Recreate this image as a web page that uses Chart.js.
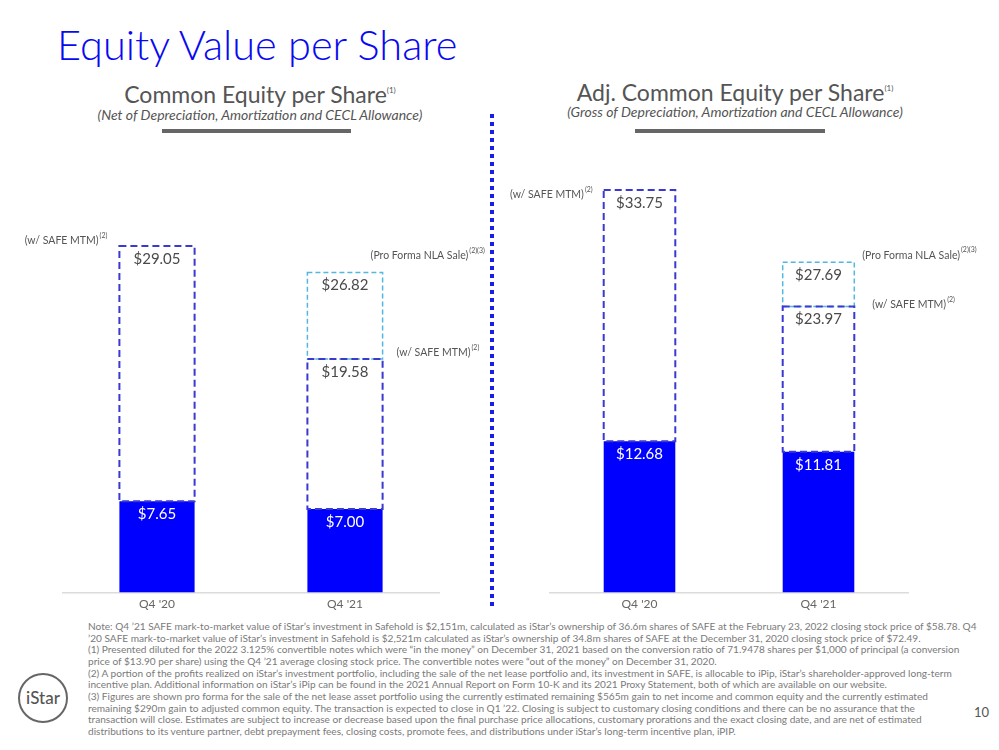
<!DOCTYPE html>
<html>
<head>
<meta charset="utf-8">
<title>Equity Value per Share</title>
<script src="https://cdn.jsdelivr.net/npm/chart.js@4.4.1/dist/chart.umd.min.js"></script>
<style>
    body {
        margin: 0;
        background: #ffffff;
        font-family: Lato, 'Noto Sans', sans-serif;
    }

    .page {
        position: relative;
        width: 999px;
        height: 750px;
        overflow: hidden;
    }

    .title {
        position: absolute;
        left: 57px;
        top: 24px;
        margin: 0;
        font-size: 41.5px;
        line-height: 41px;
        font-weight: 300;
        color: #0808f2;
        white-space: nowrap;
    }

    .panel-head {
        position: absolute;
        width: 420px;
        text-align: center;
        color: #555555;
        white-space: nowrap;
    }

    .panel-head .sub {
        position: absolute;
        left: 0;
        right: 0;
        font-size: 23px;
        line-height: 23px;
        font-weight: 400;
    }

    .panel-head .sub sup {
        font-size: 8px;
        vertical-align: 10px;
        line-height: 0;
    }

    .panel-head .note {
        position: absolute;
        left: 0;
        right: 0;
        font-size: 14px;
        line-height: 14px;
        font-style: italic;
    }

    .rule {
        position: absolute;
        height: 4px;
        background: #666666;
    }

    .divider {
        position: absolute;
        left: 490px;
        top: 114px;
        width: 4px;
        height: 496px;
        background: repeating-linear-gradient(to bottom, #1c1ce8 0 4px, transparent 4px 8px);
    }

    .chart-box {
        position: absolute;
        top: 160px;
    }

    .footnotes {
        position: absolute;
        left: 88px;
        top: 621px;
        font-size: 10.1px;
        line-height: 11.67px;
        color: #7a7a7a;
        white-space: nowrap;
    }

    .logo {
        position: absolute;
        left: 18px;
        top: 673px;
        width: 46px;
        height: 46px;
        border: 2px solid #666666;
        border-radius: 50%;
        text-align: center;
        line-height: 46px;
        font-size: 17px;
        font-weight: 500;
        color: #555555;
    }

    .page-num {
        position: absolute;
        left: 974px;
        top: 704px;
        font-size: 13px;
        color: #555555;
    }
</style>
</head>
<body>
<div class="page">
    <h1 class="title">Equity Value per Share</h1>

    <div class="panel-head" style="left: 50px; top: 0;">
        <div class="sub" style="top: 83px;">Common Equity per Share<sup>(1)</sup></div>
        <div class="note" style="top: 108px;">(Net of Depreciation, Amortization and CECL Allowance)</div>
    </div>
    <div class="rule" style="left: 162px; top: 129px; width: 189px;"></div>

    <div class="panel-head" style="left: 525px; top: 0;">
        <div class="sub" style="top: 81px;">Adj. Common Equity per Share<sup>(1)</sup></div>
        <div class="note" style="top: 105px;">(Gross of Depreciation, Amortization and CECL Allowance)</div>
    </div>
    <div class="rule" style="left: 635px; top: 129px; width: 190px;"></div>

    <div class="divider"></div>

    <div class="chart-box" style="left: 0;">
        <canvas id="commonChart" width="490" height="455"></canvas>
    </div>
    <div class="chart-box" style="left: 500px;">
        <canvas id="adjChart" width="499" height="455"></canvas>
    </div>

    <div class="footnotes">
        Note: Q4 ’21 SAFE mark-to-market value of iStar’s investment in Safehold is $2,151m, calculated as iStar’s ownership of 36.6m shares of SAFE at the February 23, 2022 closing stock price of $58.78. Q4<br>
        ’20 SAFE mark-to-market value of iStar’s investment in Safehold is $2,521m calculated as iStar’s ownership of 34.8m shares of SAFE at the December 31, 2020 closing stock price of $72.49.<br>
        (1) Presented diluted for the 2022 3.125% convertible notes which were “in the money” on December 31, 2021 based on the conversion ratio of 71.9478 shares per $1,000 of principal (a conversion<br>
        price of $13.90 per share) using the Q4 ’21 average closing stock price. The convertible notes were “out of the money” on December 31, 2020.<br>
        (2) A portion of the profits realized on iStar’s investment portfolio, including the sale of the net lease portfolio and, its investment in SAFE, is allocable to iPip, iStar’s shareholder-approved long-term<br>
        incentive plan. Additional information on iStar’s iPip can be found in the 2021 Annual Report on Form 10-K and its 2021 Proxy Statement, both of which are available on our website.<br>
        (3) Figures are shown pro forma for the sale of the net lease asset portfolio using the currently estimated remaining $565m gain to net income and common equity and the currently estimated<br>
        remaining $290m gain to adjusted common equity. The transaction is expected to close in Q1 ’22. Closing is subject to customary closing conditions and there can be no assurance that the<br>
        transaction will close. Estimates are subject to increase or decrease based upon the final purchase price allocations, customary prorations and the exact closing date, and are net of estimated<br>
        distributions to its venture partner, debt prepayment fees, closing costs, promote fees, and distributions under iStar’s long-term incentive plan, iPIP.
    </div>

    <div class="logo">iStar</div>
    <div class="page-num">10</div>
</div>

<script>
const categories = ["Q4 '20", "Q4 '21"];

// common equity per share (net)
const commonBase = [7.65, 7.00];
const commonMtm = [29.05, 19.58];
const commonProForma = [null, 26.82];

// adjusted common equity per share (gross)
const adjBase = [12.68, 11.81];
const adjMtm = [33.75, 23.97];
const adjProForma = [null, 27.69];

const yMin = 0;
const yMax = 35;

const SOLID_BLUE = '#0000ff';
const MTM_DASH = '#3a3ad0';
const PRO_FORMA_DASH = '#52b8e0';
const LABEL_GREY = '#4a4a4a';

Chart.defaults.font.family = "Lato, 'Noto Sans', sans-serif";

// bars are drawn by chart.js, the dashed outlines and labels on top of them
const segmentPlugin = {
    id: 'segments',
    afterDatasetsDraw(chart) {
        const ctx = chart.ctx;

        chart.data.datasets.forEach((dataset, datasetIndex) => {
            const meta = chart.getDatasetMeta(datasetIndex);

            meta.data.forEach((bar, index) => {
                const raw = dataset.data[index];
                if (raw === null || raw === undefined) {
                    return;
                }

                const top = Math.min(bar.y, bar.base);
                const bottom = Math.max(bar.y, bar.base);
                const left = bar.x - bar.width / 2;

                if (dataset.dash) {
                    ctx.save();
                    ctx.setLineDash(dataset.dash.pattern);
                    ctx.lineWidth = dataset.dash.width;
                    ctx.strokeStyle = dataset.dash.color;
                    ctx.strokeRect(left, top, bar.width, bottom - top);
                    ctx.restore();
                }

                const value = Array.isArray(raw) ? raw[1] : raw;
                ctx.save();
                ctx.font = "15px Lato, 'Noto Sans', sans-serif";
                ctx.fillStyle = dataset.labelColor;
                ctx.textAlign = 'center';
                ctx.textBaseline = 'middle';
                ctx.fillText('$' + value.toFixed(2), bar.x, top + 13);
                ctx.restore();
            });
        });

        const notes = chart.options.plugins.segments.notes || [];
        notes.forEach((note) => {
            const datasetIndex = chart.data.datasets.findIndex((d) => d.key === note.dataset);
            const bar = chart.getDatasetMeta(datasetIndex).data[note.index];
            const top = Math.min(bar.y, bar.base);

            ctx.save();
            ctx.fillStyle = '#555555';
            ctx.textBaseline = 'middle';
            ctx.font = "10.5px Lato, 'Noto Sans', sans-serif";
            const textWidth = ctx.measureText(note.text).width;
            ctx.font = "7px Lato, 'Noto Sans', sans-serif";
            const supWidth = ctx.measureText(note.sup).width;

            let x;
            if (note.side === 'left') {
                x = bar.x - bar.width / 2 - note.dx - textWidth - supWidth - 1;
            } else {
                x = bar.x + bar.width / 2 + note.dx;
            }
            const y = top + note.dy;

            ctx.textAlign = 'left';
            ctx.font = "10.5px Lato, 'Noto Sans', sans-serif";
            ctx.fillText(note.text, x, y);
            ctx.font = "7px Lato, 'Noto Sans', sans-serif";
            ctx.fillText(note.sup, x + textWidth + 1, y - 5);
            ctx.restore();
        });
    }
};

function buildChart(canvasId, base, mtm, proForma, padding, notes) {
    return new Chart(document.getElementById(canvasId), {
        type: 'bar',
        data: {
            labels: categories,
            datasets: [
                {
                    key: 'base',
                    data: base,
                    backgroundColor: SOLID_BLUE,
                    labelColor: '#ffffff'
                },
                {
                    key: 'proForma',
                    data: proForma.map((value, i) => value === null ? null : [mtm[i], value]),
                    backgroundColor: 'rgba(255, 255, 255, 0)',
                    labelColor: LABEL_GREY,
                    dash: { color: PRO_FORMA_DASH, width: 1.5, pattern: [5, 3] }
                },
                {
                    key: 'mtm',
                    data: mtm.map((value, i) => [base[i], value]),
                    backgroundColor: 'rgba(255, 255, 255, 0)',
                    labelColor: LABEL_GREY,
                    dash: { color: MTM_DASH, width: 2, pattern: [7, 4] }
                }
            ]
        },
        options: {
            responsive: false,
            animation: false,
            layout: { padding: padding },
            datasets: {
                bar: {
                    grouped: false,
                    categoryPercentage: 0.4,
                    barPercentage: 1,
                    borderWidth: 0
                }
            },
            scales: {
                x: {
                    grid: { display: false, drawTicks: false },
                    border: { display: true, color: '#dcdcdc', width: 1.5 },
                    ticks: {
                        color: '#666666',
                        padding: 4,
                        font: { size: 12 }
                    }
                },
                y: {
                    display: false,
                    min: yMin,
                    max: yMax
                }
            },
            plugins: {
                legend: { display: false },
                tooltip: { enabled: false },
                segments: { notes: notes }
            }
        },
        plugins: [segmentPlugin]
    });
}

buildChart('commonChart', commonBase, commonMtm, commonProForma,
    { left: 63, right: 51, top: 15, bottom: 0 },
    [
        { dataset: 'mtm', index: 0, text: '(w/ SAFE MTM)', sup: '(2)', side: 'left', dx: 12, dy: -5 },
        { dataset: 'proForma', index: 1, text: '(Pro Forma NLA Sale)', sup: '(2)(3)', side: 'right', dx: -12, dy: -17 },
        { dataset: 'mtm', index: 1, text: '(w/ SAFE MTM)', sup: '(2)', side: 'right', dx: 14, dy: -6 }
    ]);

buildChart('adjChart', adjBase, adjMtm, adjProForma,
    { left: 50, right: 91, top: 15, bottom: 0 },
    [
        { dataset: 'mtm', index: 0, text: '(w/ SAFE MTM)', sup: '(2)', side: 'left', dx: 11, dy: 5 },
        { dataset: 'proForma', index: 1, text: '(Pro Forma NLA Sale)', sup: '(2)(3)', side: 'right', dx: 8, dy: -7 },
        { dataset: 'mtm', index: 1, text: '(w/ SAFE MTM)', sup: '(2)', side: 'right', dx: 18, dy: -2 }
    ]);
</script>
</body>
</html>
